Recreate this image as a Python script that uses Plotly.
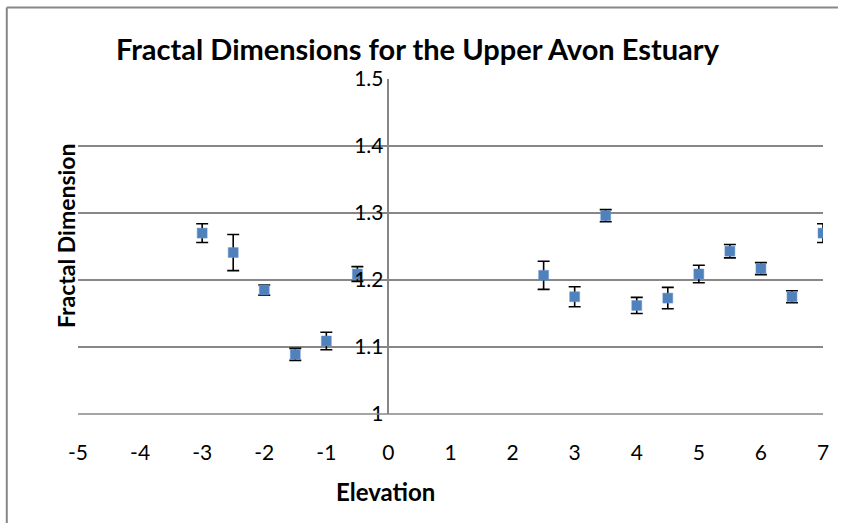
import plotly.graph_objects as go

elevation = [-3, -2.5, -2, -1.5, -1, -0.5, 2.5, 3, 3.5, 4, 4.5, 5, 5.5, 6, 6.5, 7]
fractal_dim = [1.270, 1.241, 1.185, 1.089, 1.109, 1.209, 1.207, 1.175, 1.296,
               1.162, 1.173, 1.209, 1.243, 1.217, 1.175, 1.270]
error = [0.014, 0.027, 0.0075, 0.009, 0.013, 0.011, 0.021, 0.015, 0.009,
         0.012, 0.016, 0.013, 0.010, 0.009, 0.009, 0.014]
x_ticks = [-5, -4, -3, -2, -1, 0, 1, 2, 3, 4, 5, 6, 7]
y_ticks = [1, 1.1, 1.2, 1.3, 1.4, 1.5]

FONT = "Lato, Open Sans, sans-serif"
GRID = "#878787"

W, H = 841, 523
L, R, T, B = 78, 15, 79, 109
pw, ph = W - L - R, H - T - B

def px(xp):
    return (xp - L) / pw

def py(yp):
    return (H - B - yp) / ph

fig = go.Figure()
fig.add_trace(go.Scatter(
    x=elevation, y=fractal_dim, mode="markers",
    marker=dict(symbol="square", size=10, color="#4F81BD",
                line=dict(color="#6E98CC", width=0.5)),
    error_y=dict(type="data", array=error, visible=True,
                 color="black", thickness=1.6, width=6),
    showlegend=False,
))

fig.update_layout(
    width=W, height=H,
    margin=dict(l=L, r=R, t=T, b=B),
    paper_bgcolor="white", plot_bgcolor="white",
    font=dict(family=FONT, color="black"),
    xaxis=dict(range=[-5, 7], tickvals=x_ticks, ticktext=[str(v) for v in x_ticks],
               showgrid=False, zeroline=False, showline=False,
               ticks="", tickfont=dict(size=21, family=FONT), ticklabelstandoff=24),
    yaxis=dict(range=[1, 1.5], tickvals=y_ticks,
               ticktext=["1", "1.1", "1.2", "1.3", "1.4", "1.5"],
               showgrid=True, gridcolor=GRID, gridwidth=1.5,
               zeroline=False, showline=True, linecolor=GRID, linewidth=1.5,
               anchor="free", position=5 / 12, ticks="",
               tickfont=dict(size=21, family=FONT)),
)

fig.add_shape(type="line", xref="paper", yref="paper", x0=0, x1=1, y0=0, y1=0,
              line=dict(color=GRID, width=1.5))
# chart area border (left and top edges only visible)
fig.add_shape(type="line", xref="paper", yref="paper",
              x0=px(6.5), x1=px(6.5), y0=py(523), y1=py(7.5),
              line=dict(color=GRID, width=2))
fig.add_shape(type="line", xref="paper", yref="paper",
              x0=px(6.5), x1=px(841), y0=py(7.5), y1=py(7.5),
              line=dict(color=GRID, width=2))

fig.add_annotation(text="<b>Fractal Dimensions for the Upper Avon Estuary</b>",
                   xref="paper", yref="paper", x=px(419), y=py(49),
                   showarrow=False, font=dict(size=29, family=FONT),
                   xanchor="center", yanchor="middle")
fig.add_annotation(text="<b>Fractal Dimension</b>", textangle=-90,
                   xref="paper", yref="paper", x=px(66), y=py(236),
                   showarrow=False, font=dict(size=23, family=FONT),
                   xanchor="center", yanchor="middle")
fig.add_annotation(text="<b>Elevation</b>",
                   xref="paper", yref="paper", x=px(387), y=py(491),
                   showarrow=False, font=dict(size=24, family=FONT),
                   xanchor="center", yanchor="middle")

fig.write_html("out.html", config={"displayModeBar": False})
